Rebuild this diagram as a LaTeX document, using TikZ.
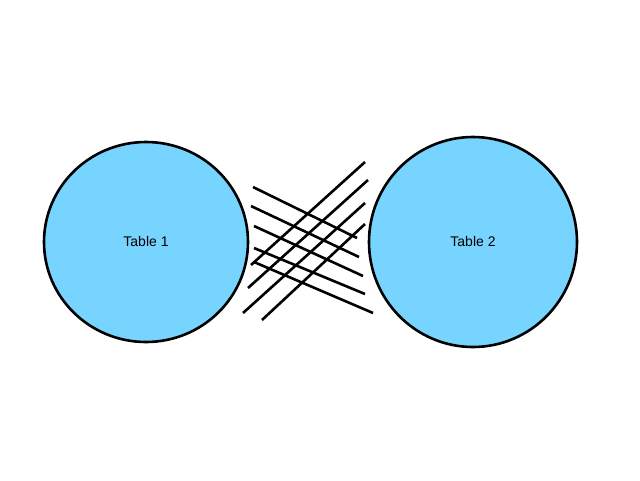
\documentclass[tikz,border=0pt]{standalone}
\usepackage{fontspec}
\setmainfont{Liberation Sans}
\begin{document}
\begin{tikzpicture}[x=1pt,y=-1pt,
  link/.style={draw=black,line width=2.6pt}]
\useasboundingbox (0,0) rectangle (640,480);
\filldraw[line width=2.6pt,fill={rgb,255:red,119;green,212;blue,255}] (146,242) ellipse [x radius=102,y radius=100];
\filldraw[line width=2.6pt,fill={rgb,255:red,119;green,212;blue,255}] (473,242) ellipse [x radius=104,y radius=105];
\node (t1) at (146,241) {\fontsize{14}{16}\selectfont Table 1};
\node (t2) at (473,241) {\fontsize{14}{16}\selectfont Table 2};
\foreach \a/\b/\c/\d in {253/187/357/238, 251/206/359/257, 254/226/363/276, 254/248/365/294, 254/262/373/313,
  251/265/365/162, 248/288/368/180, 243/313/365/203, 262/320/365/224}
  \draw[link] (\a,\b) -- (\c,\d);
\end{tikzpicture}
\end{document}
